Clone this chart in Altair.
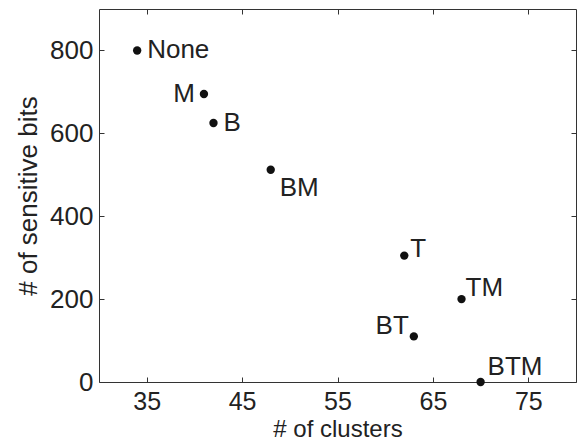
import altair as alt
import pandas as pd

labels = ["None", "M", "B", "BM", "T", "TM", "BT", "BTM"]
clusters = [34, 41, 42, 48, 62, 68, 63, 70]
bits = [800, 695, 625, 512, 305, 200, 110, 0]
x_ticks = [35, 45, 55, 65, 75]
y_ticks = [0, 200, 400, 600, 800]

df = pd.DataFrame({"label": labels, "clusters": clusters, "bits": bits})

W, H = 477, 373
FONT = "Liberation Sans"
INK = "#222222"
FS = 26

xs = alt.Scale(domain=[30, 80], nice=False, zero=False)
ys = alt.Scale(domain=[0, 900], nice=False, zero=False)

base = alt.Chart(df)

main_x = alt.Axis(values=x_ticks, title="# of clusters", ticks=False, domain=False, grid=False,
                  labelFontSize=25, labelPadding=7, titleFontSize=24, titlePadding=3,
                  titleFontWeight="normal", labelColor=INK, titleColor=INK,
                  labelFont=FONT, titleFont=FONT)
main_y = alt.Axis(values=y_ticks, title="# of sensitive bits", ticks=False, domain=False, grid=False,
                  labelFontSize=FS, labelPadding=6, titleFontSize=FS, titlePadding=8,
                  titleFontWeight="normal", labelColor=INK, titleColor=INK,
                  labelFont=FONT, titleFont=FONT)

points = base.mark_circle(size=70, color="#111111", opacity=1).encode(
    x=alt.X("clusters:Q", scale=xs, axis=main_x),
    y=alt.Y("bits:Q", scale=ys, axis=main_y),
)


def tick_axis(vals, orient, offset):
    return alt.Axis(orient=orient, offset=offset, values=vals, labels=False, title="",
                    domain=False, grid=False, ticks=True, tickSize=5, tickColor="#333")


ticks_a = base.mark_point(opacity=0).encode(
    x=alt.X("clusters:Q", scale=xs, axis=tick_axis(x_ticks, "top", -H)),
    y=alt.Y("bits:Q", scale=ys, axis=tick_axis(y_ticks, "right", -W)),
)
ticks_b = base.mark_point(opacity=0).encode(
    x=alt.X("clusters:Q", scale=xs, axis=tick_axis(x_ticks, "bottom", -H)),
    y=alt.Y("bits:Q", scale=ys, axis=tick_axis(y_ticks, "left", -W)),
)


def label_layer(names, dx, dy, align):
    return base.transform_filter(
        alt.FieldOneOfPredicate(field="label", oneOf=names)
    ).mark_text(dx=dx, dy=dy, align=align, baseline="middle", font=FONT,
                fontSize=FS, color=INK).encode(
        x=alt.X("clusters:Q", scale=xs, axis=None),
        y=alt.Y("bits:Q", scale=ys, axis=None),
        text="label:N",
    )


texts = [
    label_layer(["None", "B"], 10, 0, "left"),
    label_layer(["M"], -9, 0, "right"),
    label_layer(["BM"], 9, 18, "left"),
    label_layer(["T"], 6, -7, "left"),
    label_layer(["TM"], 4, -11, "left"),
    label_layer(["BT"], -5, -10, "right"),
    label_layer(["BTM"], 7, -15, "left"),
]

chart = alt.layer(points, ticks_a, ticks_b, *texts).resolve_axis(
    x="independent", y="independent"
).properties(
    width=W, height=H,
    autosize=alt.AutoSizeParams(type="none"),
    padding={"left": 99, "top": 9, "right": 3, "bottom": 61},
    background="white",
).configure_view(stroke="#333", strokeWidth=1)

chart.save("out.html", embed_options={"renderer": "svg", "actions": False})
